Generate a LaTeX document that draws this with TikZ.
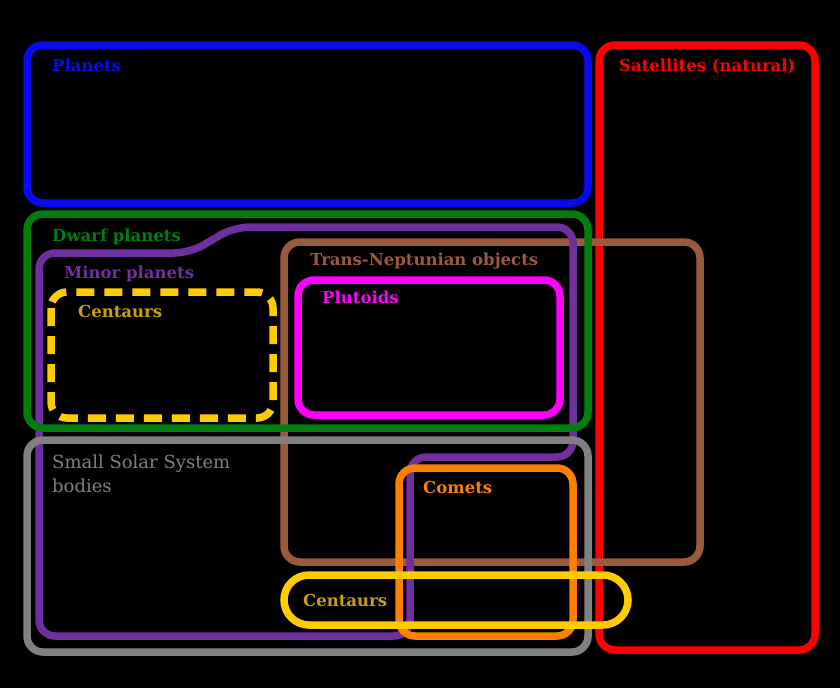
\documentclass[tikz,border=0pt]{standalone}
\usepackage{fontspec}
\setmainfont{DejaVu Serif}
\begin{document}
\begin{tikzpicture}[x=1pt,y=-1pt,
  box/.style={line width=7.5pt,rounded corners=16pt},
  lab/.style={anchor=north west,font=\fontsize{16.5}{19}\selectfont\bfseries,inner sep=0pt}]
\fill[black] (0,0) rectangle (840,688);
\useasboundingbox (0,0) rectangle (840,688);
\definecolor{cblue}{HTML}{0A0AF0}
\definecolor{cred}{HTML}{FF0000}
\definecolor{cgreen}{HTML}{007F0E}
\definecolor{cpurple}{HTML}{6F2F9F}
\definecolor{cyel}{HTML}{FFCC00}
\definecolor{cyeltext}{HTML}{C8A010}
\definecolor{cbrown}{HTML}{9A5A3C}
\definecolor{cmag}{HTML}{FF00FF}
\definecolor{cgray}{HTML}{808080}
\definecolor{corange}{HTML}{FF8000}
\draw[box,cblue] (27,45) rectangle (588,203);
\draw[box,cred] (599,45) rectangle (815,650);
\draw[box,cbrown] (284,242) rectangle (700,562);
\draw[box,cpurple] (39,636) -- (39,253) -- (190,253) -- (234,227) -- (573,227) -- (573,457) -- (410,457) -- (410,636) -- cycle;
\draw[box,cyel,dash pattern=on 18pt off 10pt] (51,292) rectangle (273,418);
\draw[box,cmag] (298,280) rectangle (560,415);
\draw[box,cgreen] (27,214) rectangle (588,428);
\draw[box,cgray] (27,440) rectangle (588,652);
\draw[box,corange] (399,468) rectangle (573,636);
\draw[line width=7.5pt,cyel,rounded corners=25pt] (284,575) rectangle (628,625);
\node[lab,text=cblue] (planets) at (52,59) {Planets};
\node[lab,text=cred] (sat) at (619,59) {Satellites (natural)};
\node[lab,text=cgreen] (dwarf) at (52,229) {Dwarf planets};
\node[lab,text=cpurple] (minor) at (64,266) {Minor planets};
\node[lab,text=cyeltext] (cent1) at (78,305) {Centaurs};
\node[lab,text=cbrown] (tno) at (310,253) {Trans-Neptunian objects};
\node[lab,text=cmag] (plut) at (322,291) {Plutoids};
\node[lab,text=cgray,font=\fontsize{18}{24}\selectfont,align=left] (sssb) at (52,455) {Small Solar System\\bodies};
\node[lab,text=corange] (com) at (423,481) {Comets};
\node[lab,text=cyeltext] (cent2) at (303,594) {Centaurs};
\end{tikzpicture}
\end{document}
